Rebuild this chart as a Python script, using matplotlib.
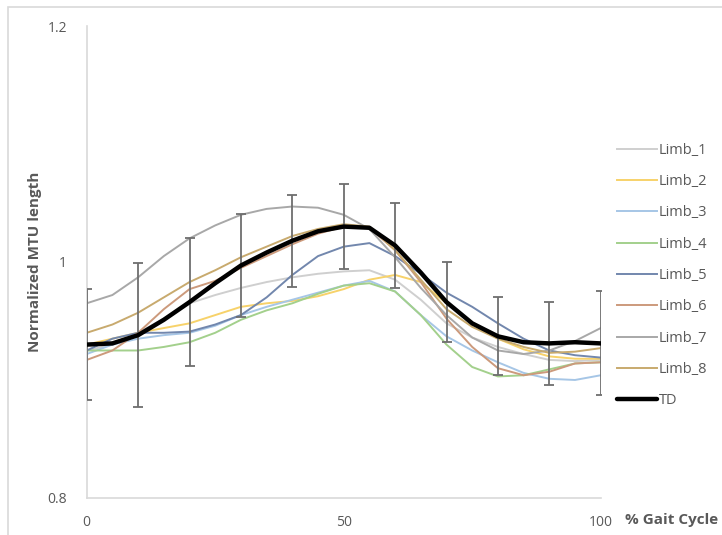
import matplotlib
matplotlib.use("Agg")
import matplotlib.pyplot as plt
from matplotlib.patches import Rectangle

# % gait cycle, every 5 %
gait = [0, 5, 10, 15, 20, 25, 30, 35, 40, 45, 50, 55, 60, 65, 70, 75, 80, 85, 90, 95, 100]

limb_1 = [0.925, 0.930, 0.940, 0.952, 0.965, 0.972, 0.978, 0.983, 0.987, 0.990, 0.992, 0.993, 0.985, 0.968, 0.948, 0.936, 0.928, 0.922, 0.917, 0.916, 0.917]
limb_2 = [0.930, 0.935, 0.940, 0.944, 0.948, 0.955, 0.962, 0.965, 0.967, 0.971, 0.977, 0.985, 0.989, 0.983, 0.965, 0.948, 0.935, 0.926, 0.920, 0.918, 0.918]
limb_3 = [0.922, 0.930, 0.935, 0.938, 0.940, 0.946, 0.955, 0.962, 0.968, 0.974, 0.980, 0.984, 0.975, 0.955, 0.937, 0.925, 0.915, 0.906, 0.901, 0.900, 0.904]
limb_4 = [0.925, 0.925, 0.925, 0.928, 0.932, 0.940, 0.951, 0.959, 0.965, 0.973, 0.980, 0.982, 0.975, 0.955, 0.930, 0.911, 0.903, 0.904, 0.909, 0.914, 0.915]
limb_5 = [0.925, 0.935, 0.940, 0.940, 0.941, 0.947, 0.955, 0.970, 0.989, 1.005, 1.013, 1.016, 1.005, 0.990, 0.974, 0.962, 0.948, 0.935, 0.925, 0.921, 0.919]
limb_6 = [0.917, 0.925, 0.940, 0.960, 0.977, 0.984, 0.995, 1.005, 1.015, 1.024, 1.030, 1.029, 1.010, 0.983, 0.952, 0.928, 0.910, 0.904, 0.907, 0.914, 0.915]
limb_7 = [0.965, 0.972, 0.987, 1.005, 1.020, 1.031, 1.040, 1.045, 1.047, 1.046, 1.040, 1.028, 1.004, 0.978, 0.955, 0.936, 0.925, 0.922, 0.925, 0.933, 0.944]
limb_8 = [0.940, 0.947, 0.957, 0.970, 0.983, 0.993, 1.004, 1.013, 1.022, 1.028, 1.032, 1.030, 1.010, 0.985, 0.960, 0.945, 0.935, 0.928, 0.923, 0.924, 0.927]
td = [0.930, 0.931, 0.938, 0.951, 0.966, 0.982, 0.997, 1.008, 1.018, 1.026, 1.030, 1.029, 1.014, 0.991, 0.966, 0.948, 0.937, 0.932, 0.931, 0.932, 0.931]

# TD standard deviation at every 10 %
td_sd = [0.047, 0.061, 0.054, 0.044, 0.039, 0.036, 0.036, 0.034, 0.033, 0.035, 0.044]

limbs = [limb_1, limb_2, limb_3, limb_4, limb_5, limb_6, limb_7, limb_8]
names = ["Limb_1", "Limb_2", "Limb_3", "Limb_4", "Limb_5", "Limb_6", "Limb_7", "Limb_8"]
colors = ["#cfcfcf", "#f7d26a", "#a6c6e6", "#a3d08c", "#7287ad", "#cc9a7c", "#a8a8a8", "#c8aa6e"]

text_col = "#595959"
plt.rcParams['font.family'] = ['Open Sans', 'DejaVu Sans']

fig = plt.figure(figsize=(7.22, 5.35), dpi=100)
ax = fig.add_axes([0.1201, 0.0692, 0.7119, 0.8822])

for vals, name, c in zip(limbs, names, colors):
    ax.plot(gait, vals, color=c, lw=1.4, label=name, zorder=2, solid_joinstyle='round')

ax.errorbar(gait[::2], td[::2], yerr=td_sd, fmt='none', ecolor="#6e6e6e",
            elinewidth=1.3, capsize=3.5, capthick=1.3, zorder=3)
ax.plot(gait, td, color="black", lw=3.2, label="TD", zorder=4,
        solid_joinstyle='round', solid_capstyle='round')

ax.set_xlim(0, 100)
ax.set_ylim(0.8, 1.2)
ax.set_xticks([0, 50, 100])
ax.set_yticks([0.8, 1.0, 1.2])
ax.set_yticklabels(["0.8", "1", "1.2"])
ax.tick_params(length=0, labelsize=10, labelcolor=text_col)
ax.tick_params(axis='y', pad=14)
ax.tick_params(axis='x', pad=12)

for s in ["top", "right"]:
    ax.spines[s].set_visible(False)
for s in ["left", "bottom"]:
    ax.spines[s].set_color("#d9d9d9")
    ax.spines[s].set_linewidth(1.2)

ax.set_ylabel("Normalized MTU length", fontsize=11, fontweight='bold',
              color=text_col, labelpad=4)
ax.text(1.047, -0.047, "% Gait Cycle", transform=ax.transAxes, fontsize=11,
        fontweight='bold', color=text_col, ha='left', va='center')

ax.legend(loc='upper left', bbox_to_anchor=(1.02, 0.765), frameon=False,
          fontsize=10.5, labelcolor=text_col, handlelength=2.75,
          handletextpad=0.1, labelspacing=1.12, borderaxespad=0)

# light frame around the whole chart
fig.patches.append(Rectangle((7.5 / 722, -0.01), 1.0, 1 - 6.5 / 535 + 0.01,
                             transform=fig.transFigure, fill=False,
                             edgecolor="#d9d9d9", lw=1.2))

fig.savefig("out.png", dpi=100)
